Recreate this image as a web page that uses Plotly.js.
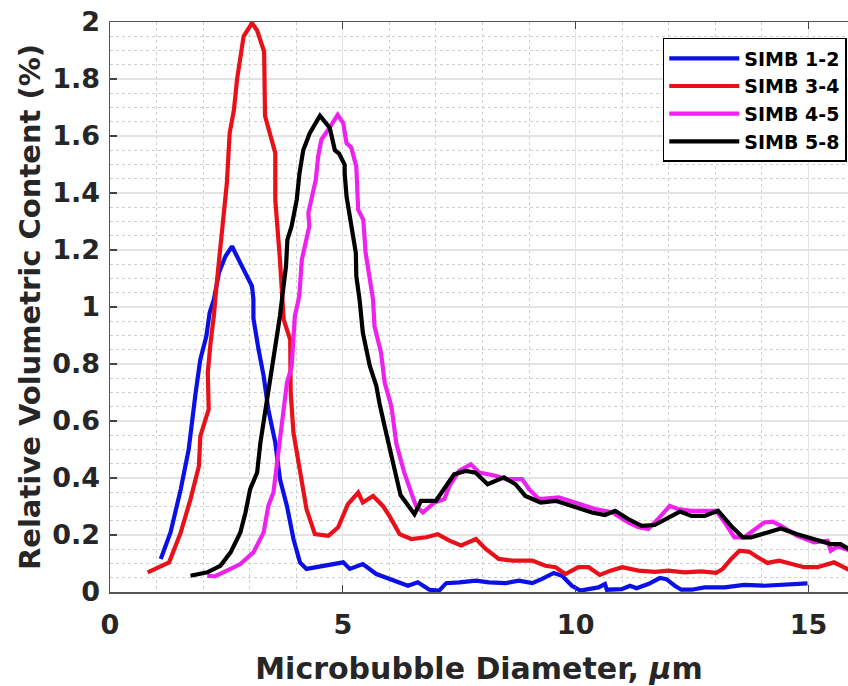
<!DOCTYPE html>
<html>
<head>
<meta charset="utf-8">
<script src="https://cdn.plot.ly/plotly-3.0.1.min.js"></script>
<style>html,body{margin:0;padding:0;background:#fff;}#chart{width:848px;height:686px;}</style>
</head>
<body>
<div id="chart"></div>
<script>
// SIMB 1-2 (blue)
const blueX = [1.09,1.30,1.52,1.69,1.84,1.94,2.07,2.14,2.23,2.34,2.48,2.62,2.87,3.05,3.08,3.08,3.19,3.30,3.40,3.55,3.65,3.80,3.94,4.08,4.22,4.65,5.01,5.15,5.43,5.72,6.07,6.40,6.61,6.86,7.07,7.22,7.50,7.86,8.14,8.50,8.78,9.07,9.28,9.53,9.71,9.92,10.10,10.28,10.49,10.63,10.67,10.99,11.17,11.31,11.56,11.81,11.95,12.13,12.27,12.49,12.77,13.20,13.62,14.05,14.48,14.98];
const blueY = [0.116,0.209,0.361,0.50,0.70,0.816,0.898,0.98,1.026,1.12,1.178,1.213,1.131,1.073,1.026,0.96,0.851,0.758,0.641,0.524,0.396,0.302,0.186,0.104,0.081,0.092,0.104,0.081,0.098,0.063,0.04,0.022,0.034,0.008,0.005,0.031,0.034,0.04,0.034,0.031,0.04,0.031,0.046,0.067,0.057,0.022,0.005,0.01,0.016,0.028,0.008,0.01,0.022,0.013,0.028,0.049,0.045,0.022,0.008,0.008,0.016,0.016,0.025,0.022,0.026,0.03];

// SIMB 3-4 (red)
const redX = [0.81,1.27,1.52,1.73,1.91,1.94,2.12,2.10,2.16,2.23,2.30,2.41,2.51,2.57,2.66,2.73,2.87,3.05,3.16,3.31,3.33,3.55,3.55,3.65,3.69,3.73,3.87,3.88,3.94,4.08,4.22,4.40,4.69,4.90,5.11,5.33,5.43,5.65,5.86,6.00,6.22,6.47,6.79,7.04,7.29,7.54,7.86,8.07,8.35,8.64,9.07,9.35,9.57,9.78,10.06,10.28,10.52,10.75,11.00,11.35,11.70,11.99,12.34,12.70,13.02,13.16,13.34,13.52,13.73,13.91,14.12,14.37,14.62,14.91,15.19,15.55,15.90];
const redY = [0.069,0.104,0.209,0.326,0.442,0.547,0.641,0.77,0.875,0.968,1.096,1.26,1.435,1.61,1.69,1.80,1.95,1.996,1.97,1.896,1.67,1.54,1.376,1.166,1.026,0.956,0.886,0.70,0.559,0.419,0.291,0.203,0.197,0.227,0.308,0.349,0.314,0.337,0.302,0.267,0.203,0.186,0.192,0.203,0.18,0.163,0.186,0.151,0.116,0.11,0.11,0.092,0.087,0.063,0.087,0.087,0.06,0.075,0.087,0.075,0.071,0.075,0.069,0.072,0.067,0.081,0.116,0.145,0.141,0.122,0.102,0.11,0.098,0.087,0.087,0.104,0.075];

// SIMB 4-5 (magenta)
const magX = [2.09,2.25,2.51,2.80,3.08,3.30,3.40,3.51,3.58,3.65,3.72,3.80,3.90,3.94,3.97,4.05,4.07,4.12,4.19,4.28,4.26,4.37,4.42,4.47,4.54,4.72,4.89,5.01,5.08,5.18,5.29,5.33,5.44,5.49,5.61,5.65,5.68,5.82,5.90,6.04,6.07,6.15,6.32,6.50,6.57,6.72,6.97,7.18,7.29,7.50,7.75,7.93,8.28,8.50,8.85,9.00,9.21,9.64,9.99,10.42,10.78,11.13,11.35,11.56,11.77,12.02,12.20,12.49,12.77,13.02,13.20,13.41,13.62,13.84,14.05,14.23,14.41,14.76,15.12,15.41,15.48,15.62,15.90];
const magY = [0.057,0.055,0.075,0.098,0.139,0.209,0.302,0.349,0.442,0.536,0.641,0.734,0.79,0.886,0.968,1.026,1.05,1.166,1.213,1.283,1.33,1.41,1.447,1.528,1.587,1.63,1.674,1.645,1.575,1.56,1.493,1.341,1.306,1.19,1.073,1.026,0.933,0.84,0.734,0.654,0.62,0.52,0.419,0.337,0.302,0.279,0.314,0.326,0.372,0.425,0.448,0.419,0.408,0.396,0.396,0.361,0.326,0.332,0.314,0.291,0.28,0.244,0.227,0.221,0.256,0.302,0.291,0.285,0.285,0.285,0.244,0.192,0.192,0.221,0.244,0.247,0.232,0.197,0.174,0.18,0.145,0.16,0.145];

// SIMB 5-8 (black)
const blkX = [1.73,2.09,2.37,2.59,2.80,2.91,3.01,3.16,3.23,3.33,3.44,3.55,3.65,3.71,3.78,3.81,3.90,4.01,4.07,4.15,4.29,4.51,4.72,4.83,4.92,5.04,5.04,5.08,5.18,5.28,5.29,5.36,5.43,5.58,5.72,5.79,5.93,6.08,6.24,6.54,6.68,7.00,7.18,7.39,7.64,7.85,8.11,8.46,8.71,8.92,9.25,9.57,9.92,10.35,10.63,10.85,11.13,11.42,11.70,11.99,12.24,12.49,12.77,13.06,13.34,13.59,13.77,14.12,14.41,14.76,15.12,15.48,15.69,15.90];
const blkY = [0.057,0.069,0.092,0.139,0.209,0.279,0.361,0.419,0.524,0.629,0.734,0.863,0.968,1.05,1.143,1.236,1.283,1.376,1.47,1.55,1.61,1.671,1.628,1.55,1.538,1.499,1.47,1.388,1.283,1.19,1.108,1.026,0.91,0.793,0.723,0.66,0.559,0.45,0.34,0.273,0.32,0.32,0.361,0.413,0.425,0.419,0.378,0.402,0.378,0.337,0.314,0.32,0.302,0.279,0.27,0.285,0.256,0.232,0.235,0.262,0.282,0.267,0.267,0.285,0.232,0.192,0.192,0.209,0.223,0.203,0.186,0.168,0.168,0.148];

const seriesNames = ['SIMB 1-2','SIMB 3-4','SIMB 4-5','SIMB 5-8'];
const seriesColors = ['#0a10e6','#e8111a','#ee22ee','#000000'];
const xTickVals = [0, 5, 10, 15];
const xTickText = ['0', '5', '10', '15'];
const xs = [blueX, redX, magX, blkX];
const ys = [blueY, redY, magY, blkY];

const FONT = 'DejaVu Sans, Arial, sans-serif';

const traces = seriesNames.map((n,i) => ({
  x: xs[i], y: ys[i], name: n, type: 'scatter', mode: 'lines',
  line: {color: seriesColors[i], width: 4.2},
  cliponaxis: true
}));

const layout = {
  width: 848, height: 686,
  margin: {l: 110, r: 0, t: 22, b: 94, pad: 0},
  paper_bgcolor: '#fff', plot_bgcolor: '#fff',
  showlegend: true,
  font: {family: FONT, color: '#262626'},
  xaxis: {
    range: [0, 15.85], tickmode: 'array', tickvals: xTickVals, ticktext: xTickText,
    ticks: 'inside', ticklen: 7, tickwidth: 1.2, tickcolor: '#444',
    showline: true, linecolor: '#555', linewidth: 1.5, mirror: 'ticks',
    showgrid: true, gridcolor: '#e3e3e3', gridwidth: 1.2,
    minor: {dtick: 1, tick0: 0, showgrid: true, gridcolor: '#cfcfcf', griddash: 'dot', gridwidth: 1, ticks: ''},
    zeroline: false,
    tickfont: {family: FONT, size: 27, weight: 'bold', color: '#262626'},
    ticklabelstandoff: 8,
    title: {text: 'Microbubble Diameter, <i>μ</i>m', font: {family: FONT, size: 30, weight: 'bold', color: '#262626'}, standoff: 21}
  },
  yaxis: {
    range: [0, 2], dtick: 0.2, tick0: 0,
    ticks: 'inside', ticklen: 7, tickwidth: 1.2, tickcolor: '#444',
    showline: true, linecolor: '#555', linewidth: 1.5, mirror: false,
    showgrid: true, gridcolor: '#e3e3e3', gridwidth: 1.2,
    minor: {dtick: 0.05, tick0: 0, showgrid: true, gridcolor: '#cfcfcf', griddash: 'dot', gridwidth: 1, ticks: ''},
    zeroline: false,
    tickfont: {family: FONT, size: 27, weight: 'bold', color: '#262626'},
    ticklabelstandoff: 3,
    title: {text: 'Relative Volumetric Content (%)', font: {family: FONT, size: 29, weight: 'bold', color: '#262626'}, standoff: 3}
  },
  legend: {
    x: 0.749, y: 0.972, xanchor: 'left', yanchor: 'top',
    bgcolor: '#fff', bordercolor: '#000', borderwidth: 1.5,
    font: {family: FONT, size: 19, weight: 'bold', color: '#000'},
    itemwidth: 70, tracegroupgap: 0
  }
};

Plotly.newPlot('chart', traces, layout, {displayModeBar: false, staticPlot: true});
</script>
</body>
</html>
